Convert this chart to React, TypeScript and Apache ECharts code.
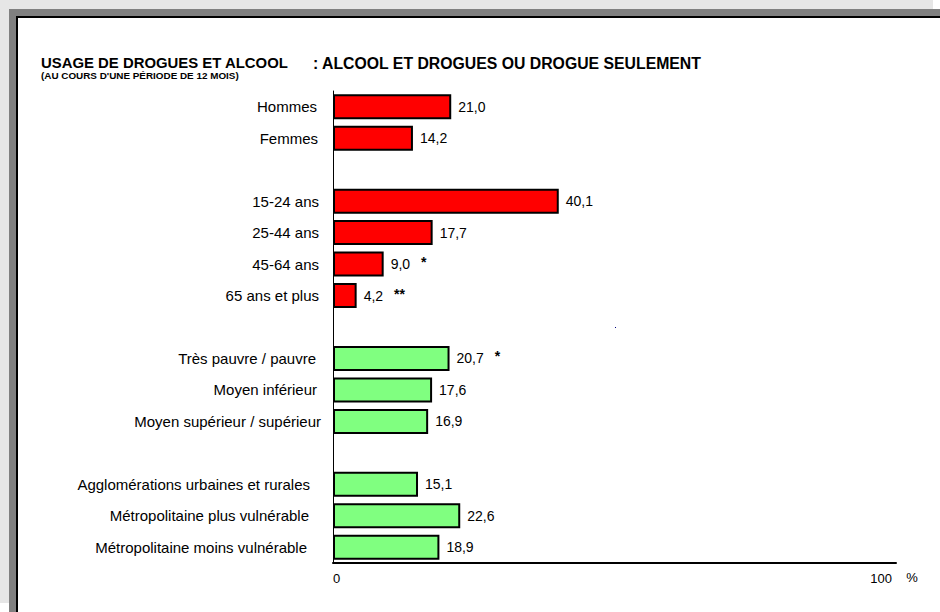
import React, { useEffect, useRef } from "react";
import * as echarts from "echarts";

const categories = [
  "Hommes",
  "Femmes",
  " ",
  "15-24 ans",
  "25-44 ans",
  "45-64 ans",
  "65 ans et plus",
  "  ",
  "Très pauvre / pauvre",
  "Moyen inférieur",
  "Moyen supérieur / supérieur",
  "   ",
  "Agglomérations urbaines et rurales",
  "Métropolitaine plus vulnérable",
  "Métropolitaine moins vulnérable",
];

const values: (number | null)[] = [
  21.0, 14.2, null, 40.1, 17.7, 9.0, 4.2, null, 20.7, 17.6, 16.9, null, 15.1, 22.6, 18.9,
];

const marks = ["", "", "", "", "", "*", "**", "", "*", "", "", "", "", "", ""];

const groups = ["sexe", "sexe", "", "age", "age", "age", "age", "", "rev", "rev", "rev", "", "terr", "terr", "terr"];

const xTicks = [0, 100];

// style only: right padding of each category label (px)
const labelNudge = [4, 3, 0, 2, 2, 2, 2, 0, 5, 4, 0, 0, 11, 12, 14];

const FONT = "'Liberation Sans', Arial, Helvetica, sans-serif";

export default function App() {
  const ref = useRef<HTMLDivElement>(null);

  useEffect(() => {
    if (!ref.current) return;
    const chart = echarts.init(ref.current, undefined, { renderer: "svg" });

    const colorFor = (g: string) => (g === "sexe" || g === "age" ? "#ff0000" : "#80ff80");

    const data = values.map((v, i) =>
      v === null
        ? { value: null }
        : {
            value: v,
            itemStyle: { color: colorFor(groups[i]) },
          }
    );

    const catRich: Record<string, any> = {};
    labelNudge.forEach((n, i) => {
      catRich[`r${i}`] = {
        fontSize: 15,
        color: "#000",
        fontFamily: FONT,
        padding: [0, n, 0, 0],
      };
    });

    chart.setOption({
      animation: false,
      backgroundColor: "#ffffff",
      textStyle: { fontFamily: FONT },
      grid: { left: 333, right: 44, top: 91, bottom: 49, containLabel: false },
      xAxis: {
        type: "value",
        min: xTicks[0],
        max: xTicks[1],
        interval: 100,
        axisLine: { show: true, onZero: false, lineStyle: { color: "#000", width: 2 } },
        axisTick: { show: false },
        splitLine: { show: false },
        axisLabel: {
          color: "#000",
          fontSize: 13,
          fontFamily: FONT,
          margin: 9,
          alignMinLabel: "left",
          alignMaxLabel: "right",
          padding: [0, 4, 0, 0],
        },
      },
      yAxis: {
        type: "category",
        inverse: true,
        data: categories,
        axisLine: { show: true, lineStyle: { color: "#000", width: 1 } },
        axisTick: { show: false },
        splitLine: { show: false },
        axisLabel: {
          color: "#000",
          fontSize: 15,
          fontFamily: FONT,
          margin: 12,
          interval: 0,
          formatter: (val: string, idx: number) => (val.trim() ? `{r${idx}|${val}}` : ""),
          rich: catRich,
        },
      },
      series: [
        {
          type: "bar",
          data,
          barWidth: 25,
          itemStyle: { borderColor: "#000", borderWidth: 2 },
          label: {
            show: true,
            position: "right",
            distance: 7,
            color: "#000",
            fontSize: 14,
            fontFamily: FONT,
            formatter: (p: any) => {
              const v = values[p.dataIndex];
              if (v === null) return "";
              const s = v.toFixed(1).replace(".", ",");
              const m = marks[p.dataIndex];
              return m ? `{v|${s}}{s|${m}}` : `{v|${s}}`;
            },
            rich: {
              v: { fontSize: 14, color: "#000", fontFamily: FONT },
              s: {
                fontSize: 14,
                fontWeight: "bold",
                color: "#000",
                fontFamily: FONT,
                padding: [0, 0, 4, 11],
              },
            },
          },
        },
      ],
      graphic: [
        { type: "rect", z: -10, silent: true, shape: { x: 0, y: 0, width: 933, height: 603 }, style: { fill: "#e6e6e6" } },
        { type: "rect", z: -9, silent: true, shape: { x: 9, y: 9, width: 931, height: 603 }, style: { fill: "#808080" } },
        {
          type: "rect",
          z: -8,
          silent: true,
          shape: { x: 17, y: 17, width: 940, height: 612 },
          style: { fill: "#ffffff", stroke: "#000000", lineWidth: 2 },
        },
        {
          type: "text",
          z: 10,
          x: 41,
          y: 63,
          style: {
            text: "USAGE DE DROGUES ET ALCOOL",
            font: `bold 14.9px ${FONT}`,
            fill: "#000",
            verticalAlign: "middle",
          },
        },
        {
          type: "text",
          z: 10,
          x: 313,
          y: 63,
          style: {
            text: ": ALCOOL ET DROGUES OU DROGUE SEULEMENT",
            font: `bold 15.8px ${FONT}`,
            fill: "#000",
            verticalAlign: "middle",
          },
        },
        {
          type: "text",
          z: 10,
          x: 41,
          y: 75,
          style: {
            text: "(AU COURS D'UNE PÉRIODE DE 12 MOIS)",
            font: `bold 9.9px ${FONT}`,
            fill: "#000",
            verticalAlign: "middle",
          },
        },
        {
          type: "text",
          z: 10,
          x: 912,
          y: 577,
          style: {
            text: "%",
            font: `13px ${FONT}`,
            fill: "#000",
            align: "center",
            verticalAlign: "middle",
          },
        },
        { type: "rect", z: 10, silent: true, shape: { x: 615, y: 327, width: 1, height: 1 }, style: { fill: "#000080" } },
      ],
    });

    return () => chart.dispose();
  }, []);

  return (
    <div
      ref={ref}
      style={{ position: "fixed", left: 0, top: 0, width: 940, height: 612 }}
    />
  );
}
